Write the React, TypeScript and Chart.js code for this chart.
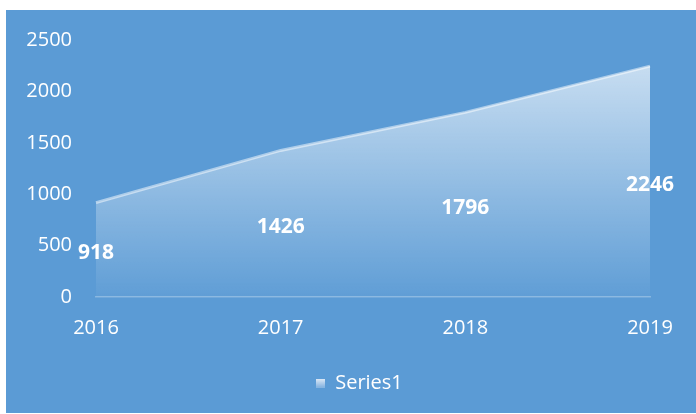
import React, { useEffect, useRef } from "react";
import { Chart, registerables } from "chart.js";

Chart.register(...registerables);

const categories = ["2016", "2017", "2018", "2019"];
const seriesName = "Series1";
const seriesValues = [918, 1426, 1796, 2246];
const yTicks = [0, 500, 1000, 1500, 2000, 2500];

const BG = "#5b9bd5";
const FONT = "'Open Sans', 'DejaVu Sans', sans-serif";

function makeLegendIcon(): HTMLCanvasElement {
  const c = document.createElement("canvas");
  c.width = 9;
  c.height = 9;
  const g = c.getContext("2d")!;
  const grad = g.createLinearGradient(0, 0, 0, 9);
  grad.addColorStop(0, "rgba(225,235,247,1)");
  grad.addColorStop(1, "rgba(130,178,224,1)");
  g.fillStyle = grad;
  g.fillRect(0, 0, 9, 9);
  return c;
}

const dataLabelPlugin = {
  id: "centerLabels",
  afterDatasetsDraw(chart: any) {
    const { ctx, scales } = chart;
    const x = scales.x;
    const y = scales.y;
    ctx.save();
    ctx.fillStyle = "#ffffff";
    ctx.font = `bold 21px ${FONT}`;
    ctx.textAlign = "center";
    ctx.textBaseline = "middle";
    seriesValues.forEach((v, i) => {
      const px = x.getPixelForValue(i);
      const py = y.getPixelForValue(v / 2) + 3;
      ctx.fillText(String(v), px, py);
    });
    ctx.restore();
  },
};

export default function App() {
  const ref = useRef<HTMLCanvasElement | null>(null);

  useEffect(() => {
    if (!ref.current) return;
    const icon = makeLegendIcon();
    const maxVal = Math.max(...seriesValues);
    const chart = new Chart(ref.current, {
      type: "line",
      data: {
        labels: categories,
        datasets: [
          {
            label: seriesName,
            data: seriesValues,
            fill: "origin",
            tension: 0,
            pointRadius: 0,
            borderColor: "rgba(255,255,255,0.5)",
            borderWidth: 3,
            backgroundColor: (context: any) => {
              const c = context.chart;
              const area = c.chartArea;
              if (!area) return "rgba(255,255,255,0.4)";
              const top = c.scales.y.getPixelForValue(maxVal);
              const grad = c.ctx.createLinearGradient(0, top, 0, area.bottom);
              grad.addColorStop(0, "rgba(255,255,255,0.66)");
              grad.addColorStop(1, "rgba(255,255,255,0.03)");
              return grad;
            },
          },
        ],
      },
      options: {
        animation: false,
        responsive: false,
        maintainAspectRatio: false,
        layout: { padding: { left: 0, right: 0, top: 30, bottom: 10 } },
        scales: {
          x: {
            offset: false,
            grid: { display: false, drawTicks: false },
            border: { display: true, color: "rgba(255,255,255,0.28)", width: 1.5 },
            ticks: {
              color: "#ffffff",
              font: { family: FONT, size: 20 },
              padding: 19,
              maxRotation: 0,
            },
            afterFit: (s: any) => {
              s.height = 66;
            },
          },
          y: {
            min: 0,
            max: 2500,
            grid: { display: false, drawTicks: true, tickLength: 24 },
            border: { display: false },
            afterBuildTicks: (s: any) => {
              s.ticks = yTicks.map((v) => ({ value: v }));
            },
            ticks: {
              color: "#ffffff",
              font: { family: FONT, size: 20 },
              padding: 0,
              callback: (v: any) => String(v),
            },
            afterFit: (s: any) => {
              s.width = 90;
            },
          },
          yRight: {
            position: "right",
            display: true,
            min: 0,
            max: 2500,
            grid: { display: false, drawTicks: false },
            border: { display: false },
            ticks: { display: false },
            afterFit: (s: any) => {
              s.width = 63;
            },
          },
        },
        plugins: {
          legend: {
            display: true,
            position: "bottom",
            labels: {
              color: "#ffffff",
              font: { family: FONT, size: 20 },
              usePointStyle: true,
              boxWidth: 9,
              boxHeight: 9,
              padding: 10,
              generateLabels: (c: any) =>
                c.data.datasets.map((d: any, i: number) => ({
                  text: d.label,
                  fillStyle: "#ffffff",
                  strokeStyle: "transparent",
                  lineWidth: 0,
                  pointStyle: icon,
                  fontColor: "#ffffff",
                  hidden: false,
                  datasetIndex: i,
                })),
            },
          },
          tooltip: { enabled: false },
        },
      },
      plugins: [dataLabelPlugin],
    });
    return () => chart.destroy();
  }, []);

  return (
    <div
      style={{
        position: "fixed",
        left: 6,
        top: 10,
        width: 690,
        height: 403,
        background: BG,
        overflow: "hidden",
      }}
    >
      <canvas ref={ref} width={707} height={403} style={{ display: "block" }} />
    </div>
  );
}
